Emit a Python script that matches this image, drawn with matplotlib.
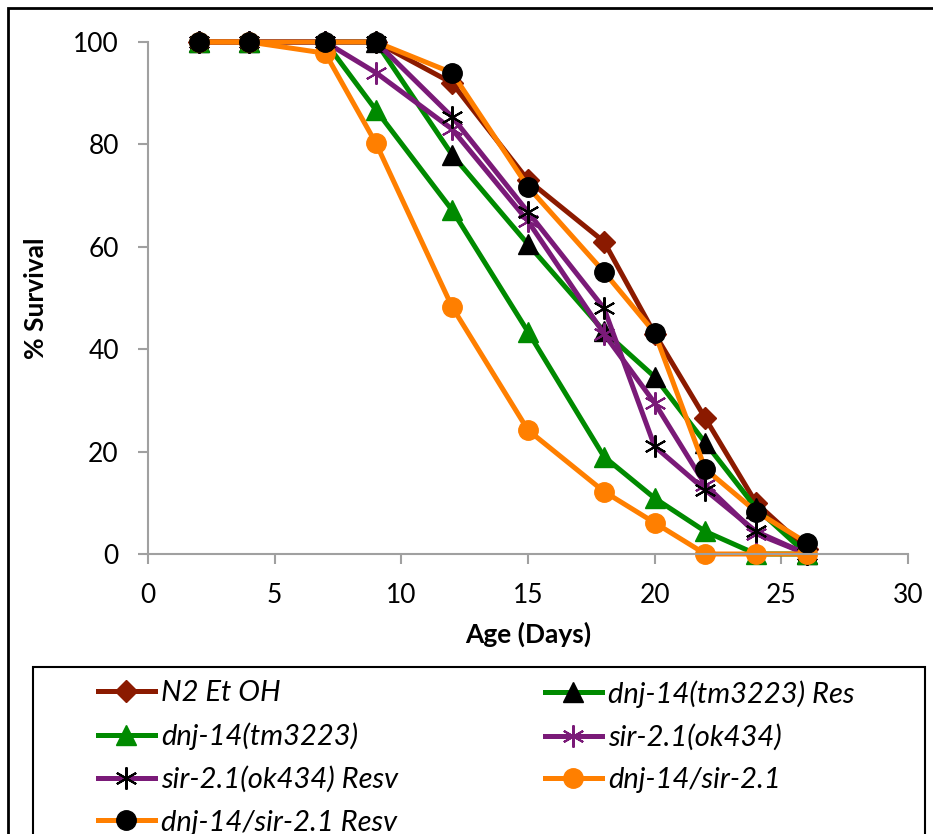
import matplotlib.pyplot as plt
from matplotlib.patches import Rectangle

plt.rcParams['font.family'] = ['Lato', 'DejaVu Sans']

days = [2, 4, 7, 9, 12, 15, 18, 20, 22, 24, 26]

n2_etoh = [100, 100, 100, 100, 92, 73, 61, 43, 26.5, 10, 1]
dnj14_res = [100, 100, 100, 100, 78, 60.5, 43.5, 34.6, 21.7, 9, 0]
dnj14 = [100, 100, 100, 86.7, 67.2, 43.4, 19, 10.9, 4.4, 0, 0]
sir21 = [100, 100, 100, 94, 83, 65, 43, 29.5, 13.5, 4, 0]
sir21_resv = [100, 100, 100, 100, 85.4, 66.8, 48, 21, 12.5, 4.4, 0]
dnj_sir = [100, 100, 97.8, 80.2, 48.3, 24.2, 12.2, 6.1, 0, 0, 0]
dnj_sir_resv = [100, 100, 100, 100, 94, 71.7, 55.1, 43.2, 16.6, 8.3, 2.2]

dark_red = '#8B1A00'
green = '#008A00'
purple = '#7A1A78'
orange = '#FF7F00'
star = (6, 2, 0)

fig = plt.figure(figsize=(9.33, 8.34), dpi=100)
ax = fig.add_axes([148 / 933, 1 - 554 / 834, 760 / 933, 512 / 834])

lw = 3.6
h_n2, = ax.plot(days, n2_etoh, color=dark_red, lw=lw, marker='D', ms=11,
                mfc=dark_red, mec=dark_red, label='N2 Et OH')
h_res, = ax.plot(days, dnj14_res, color=green, lw=lw, marker='^', ms=14,
                 mfc='black', mec='black', label='dnj-14(tm3223) Res')
h_dnj, = ax.plot(days, dnj14, color=green, lw=lw, marker='^', ms=14,
                 mfc=green, mec=green, label='dnj-14(tm3223)')
h_sir, = ax.plot(days, sir21, color=purple, lw=lw, marker=star, ms=16,
                 mec=purple, mew=1.5, label='sir-2.1(ok434)')
h_sirr, = ax.plot(days, sir21_resv, color=purple, lw=lw, marker=star, ms=16,
                  mec='black', mew=1.5, label='sir-2.1(ok434) Resv')
h_ds, = ax.plot(days, dnj_sir, color=orange, lw=lw, marker='o', ms=14,
                mfc=orange, mec=orange, label='dnj-14/sir-2.1')
h_dsr, = ax.plot(days, dnj_sir_resv, color=orange, lw=lw, marker='o', ms=14,
                 mfc='black', mec='black', label='dnj-14/sir-2.1 Resv')

ax.set_xlim(0, 30)
ax.set_ylim(0, 100)
ax.set_xticks(range(0, 31, 5))
ax.set_yticks(range(0, 101, 20))
for line in ax.get_lines():
    line.set_clip_on(False)

for side in ['top', 'right']:
    ax.spines[side].set_visible(False)
for side in ['left', 'bottom']:
    ax.spines[side].set_color('#A0A0A0')
    ax.spines[side].set_linewidth(1.5)
ax.tick_params(axis='both', color='#A0A0A0', width=1.5, length=7,
               labelsize=19, pad=14)

ax.set_xlabel('Age (Days)', fontsize=19, fontweight='bold', labelpad=10)
ax.set_ylabel('% Survival', fontsize=19, fontweight='bold', labelpad=18)

# legend: two columns drawn as two frameless legends inside one box
col1 = [h_n2, h_dnj, h_sirr, h_dsr]
col2 = [h_res, h_sir, h_ds]
leg_kw = dict(loc='upper left', prop={'style': 'italic', 'size': 21},
              numpoints=1, frameon=False, handlelength=1.95,
              handletextpad=0.2, borderpad=0, labelspacing=0.56,
              borderaxespad=0)
leg1 = fig.legend(handles=col1, labels=[h.get_label() for h in col1],
                  bbox_to_anchor=(98 / 933, 1 - 680 / 834), **leg_kw)
leg2 = fig.legend(handles=col2, labels=[h.get_label() for h in col2],
                  bbox_to_anchor=(545 / 933, 1 - 680 / 834), **leg_kw)

# legend box (runs off the bottom like the original)
fig.patches.append(Rectangle((33 / 933, -0.05), 892 / 933, 0.05 + 1 - 667 / 834,
                             transform=fig.transFigure, fill=False,
                             edgecolor='black', lw=1.5, zorder=0))
# outer chart border
fig.patches.append(Rectangle((8 / 933, -0.05), 1.0, 1 - 8 / 834 + 0.05,
                             transform=fig.transFigure, fill=False,
                             edgecolor='black', lw=2, zorder=0))

fig.savefig('out.png', dpi=100)
